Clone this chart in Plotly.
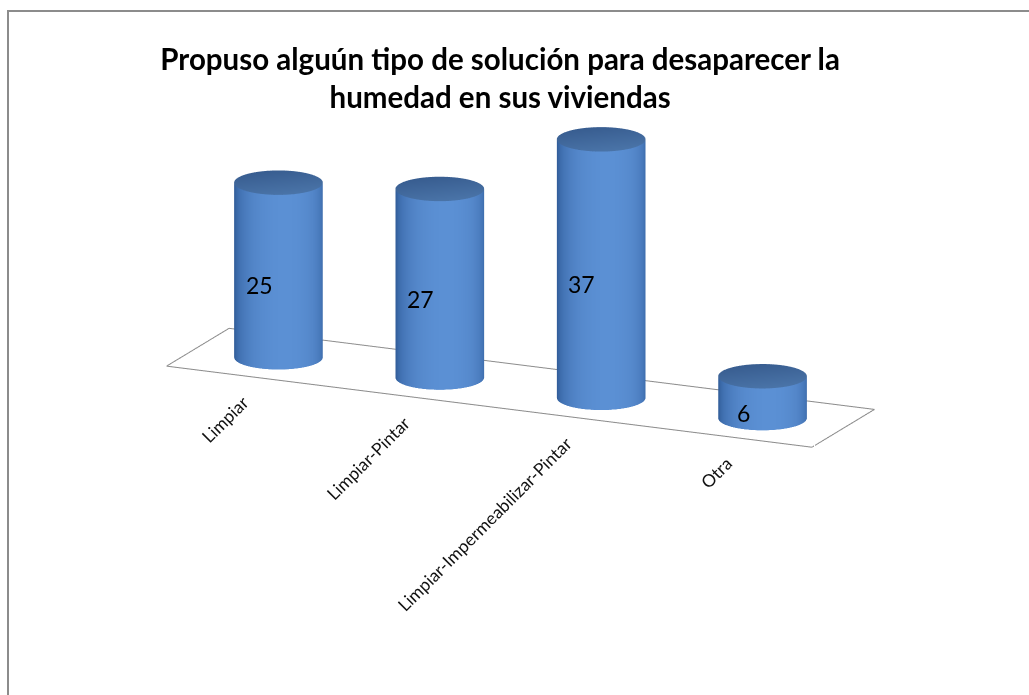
import numpy as np
import plotly.graph_objects as go

categories = ["Limpiar", "Limpiar-Pintar", "Limpiar-Impermeabilizar-Pintar", "Otra"]
values = [25, 27, 37, 6]
title_text = "Propuso alguún tipo de solución para desaparecer la<br>humedad en sus viviendas"

# geometry / style (not data)
R = 0.25
DEPTH = 0.85
YC = DEPTH / 2
ZMAX = 40
az = np.deg2rad(24.5)
el = np.deg2rad(16)
dist = 2.5
k = 0.715
eye = dict(x=dist * np.sin(az) * np.cos(el), y=-dist * np.cos(az) * np.cos(el), z=dist * np.sin(el))
th_cam = np.arctan2(-np.cos(az), np.sin(az))

body_scale = [[0.0, "#2b5289"], [0.5, "#315d99"], [0.68, "#4272b3"], [0.88, "#5386c9"], [1.0, "#5b90d4"]]
cap_scale = [[0.0, "#385d90"], [1.0, "#4a74a8"]]
flat = dict(ambient=1, diffuse=0, specular=0, roughness=1, fresnel=0)

fig = go.Figure()
theta = np.linspace(0, 2 * np.pi, 121)
for i, v in enumerate(values):
    TH, Z = np.meshgrid(theta, np.array([0.0, v]))
    X = i + R * np.cos(TH)
    Y = YC + R * np.sin(TH)
    C = np.cos(TH - th_cam - 0.15)
    fig.add_trace(go.Surface(x=X, y=Y, z=Z, surfacecolor=C, colorscale=body_scale, cmin=-1, cmax=1,
                             showscale=False, hoverinfo="skip", lighting=flat))
    rr = np.linspace(0, R, 8)
    TH2, RR = np.meshgrid(theta, rr)
    X2 = i + RR * np.cos(TH2)
    Y2 = YC + RR * np.sin(TH2)
    Z2 = np.full_like(X2, float(v))
    C2 = (X2 - i) - (Y2 - YC)
    fig.add_trace(go.Surface(x=X2, y=Y2, z=Z2, surfacecolor=C2, colorscale=cap_scale, cmin=-0.35, cmax=0.35,
                             showscale=False, hoverinfo="skip", lighting=flat))

# floor outline
n = len(categories)
fx = [-0.5, n - 0.5, n - 0.5, -0.5, -0.5]
fy = [0, 0, DEPTH, DEPTH, 0]
fig.add_trace(go.Scatter3d(x=fx, y=fy, z=[0] * 5, mode="lines", line=dict(color="#8c8c8c", width=2),
                           hoverinfo="skip", showlegend=False))

annotations = []
for i, (c, v) in enumerate(zip(categories, values)):
    annotations.append(dict(x=i, y=YC - R, z=v / 2, text=str(v), showarrow=False,
                            font=dict(family="Lato", size=23, color="#000"), xshift=-1, yshift=-4))
    annotations.append(dict(x=i + 0.05, y=0, z=0, text=c, showarrow=False, textangle=-45,
                            xanchor="right", yanchor="top", yshift=-12,
                            font=dict(family="Lato", size=17.5, color="#111")))

fig.update_layout(
    width=1029, height=695,
    margin=dict(l=0, r=0, t=0, b=0),
    paper_bgcolor="white",
    showlegend=False,
    title=dict(text=title_text, x=0.486, xanchor="center", y=0.90, yanchor="middle",
               font=dict(family="Lato", size=29.5, color="#000", weight="bold")),
    scene=dict(
        domain=dict(x=[0.012, 1], y=[0.286, 1.0]),
        xaxis=dict(visible=False, range=[-0.5, n - 0.5]),
        yaxis=dict(visible=False, range=[0, DEPTH]),
        zaxis=dict(visible=False, range=[0, ZMAX]),
        aspectmode="manual",
        aspectratio=dict(x=4 * k, y=DEPTH * k, z=ZMAX * 0.041 * k),
        camera=dict(eye=eye, center=dict(x=0, y=0, z=0), up=dict(x=0, y=0, z=1),
                    projection=dict(type="orthographic")),
        bgcolor="rgba(0,0,0,0)",
        annotations=annotations,
    ),
    shapes=[dict(type="rect", xref="paper", yref="paper", x0=8 / 1029, x1=1.02, y0=-0.02, y1=1 - 11 / 695,
                 line=dict(color="#8c8c8c", width=2), fillcolor="rgba(0,0,0,0)")],
)

fig.write_html("out.html")
